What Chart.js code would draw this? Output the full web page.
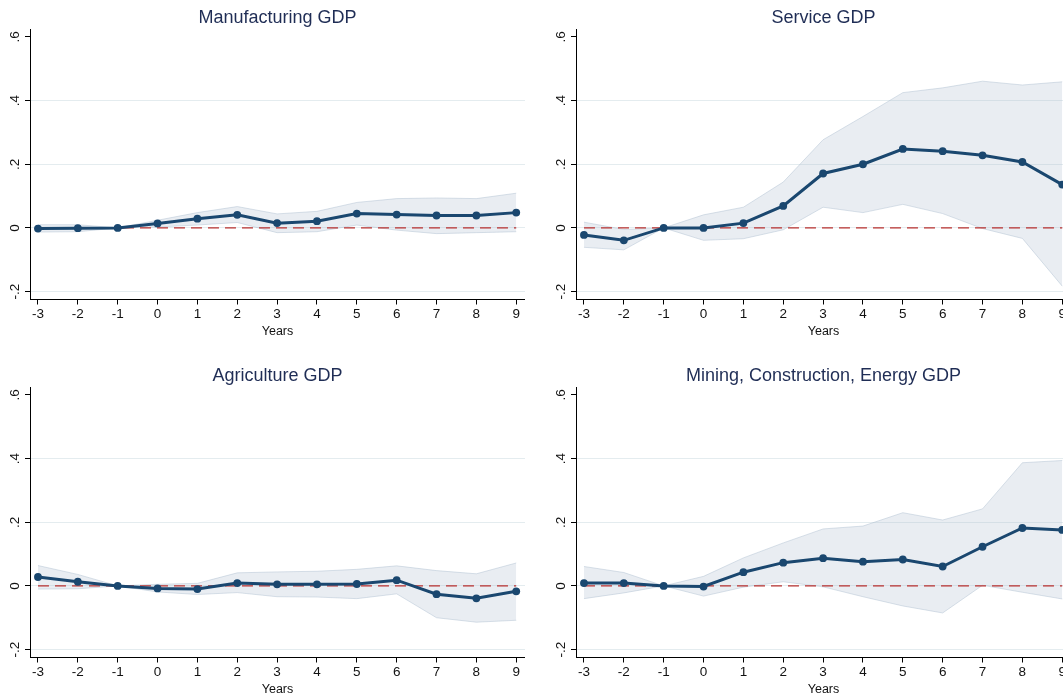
<!DOCTYPE html>
<html>
<head>
<meta charset="utf-8">
<script src="https://cdn.jsdelivr.net/npm/chart.js@4"></script>
<style>
  html, body { margin: 0; padding: 0; background: #fff; overflow: hidden; width: 1063px; height: 694px; }
  .panel { position: absolute; }
  canvas { display: block; }
</style>
</head>
<body>
<div class="panel" style="left:0px;top:0px;"><canvas id="c1" width="525" height="343"></canvas></div>
<div class="panel" style="left:546px;top:0px;"><canvas id="c2" width="525" height="343"></canvas></div>
<div class="panel" style="left:0px;top:358px;"><canvas id="c3" width="525" height="343"></canvas></div>
<div class="panel" style="left:546px;top:358px;"><canvas id="c4" width="525" height="343"></canvas></div>
<script>
// ---- Data ----
const years = [-3, -2, -1, 0, 1, 2, 3, 4, 5, 6, 7, 8, 9];
const yTicks = [-0.2, 0, 0.2, 0.4, 0.6];

const titles = ["Manufacturing GDP", "Service GDP", "Agriculture GDP", "Mining, Construction, Energy GDP"];

const mfg   = [-0.002, -0.001, 0, 0.014, 0.029, 0.041, 0.015, 0.021, 0.045, 0.042, 0.039, 0.039, 0.048];
const mfgHi = [0.010, 0.010, 0, 0.024, 0.048, 0.067, 0.044, 0.052, 0.080, 0.092, 0.094, 0.092, 0.109];
const mfgLo = [-0.013, -0.012, 0, 0.003, 0.009, 0.017, -0.015, -0.012, 0.009, -0.007, -0.018, -0.015, -0.012];

const srv   = [-0.022, -0.039, 0, 0, 0.015, 0.069, 0.171, 0.200, 0.248, 0.241, 0.228, 0.207, 0.136];
const srvHi = [0.018, -0.005, 0, 0.041, 0.065, 0.144, 0.277, 0.350, 0.425, 0.440, 0.461, 0.449, 0.459];
const srvLo = [-0.061, -0.069, 0, -0.039, -0.034, -0.006, 0.065, 0.048, 0.074, 0.045, -0.002, -0.033, -0.183];

const agr   = [0.028, 0.013, 0, -0.008, -0.010, 0.009, 0.005, 0.005, 0.006, 0.018, -0.026, -0.039, -0.017];
const agrHi = [0.064, 0.036, 0, 0.005, 0.008, 0.041, 0.044, 0.046, 0.052, 0.063, 0.048, 0.038, 0.072];
const agrLo = [-0.010, -0.009, 0, -0.019, -0.027, -0.021, -0.034, -0.035, -0.040, -0.025, -0.100, -0.114, -0.108];

const mce   = [0.009, 0.009, 0, -0.002, 0.043, 0.073, 0.087, 0.076, 0.083, 0.061, 0.123, 0.182, 0.176];
const mceHi = [0.061, 0.042, 0, 0.030, 0.088, 0.135, 0.179, 0.188, 0.230, 0.207, 0.242, 0.387, 0.394];
const mceLo = [-0.040, -0.022, 0, -0.032, -0.004, 0.013, -0.003, -0.034, -0.063, -0.085, 0.002, -0.020, -0.041];

// ---- Styles ----
const FONT = "'Liberation Sans', Arial, Helvetica, sans-serif";
const NAVY = "#1a476f";
const BAND = "rgba(175,192,208,0.28)";
const BAND_EDGE = "rgba(170,188,206,0.45)";
const RED = "#b8302f";
const GRID = "#e4ecef";

function pts(ys) { return years.map((x, i) => ({ x: x, y: ys[i] })); }
function fmtY(v) {
  if (Math.abs(v) < 1e-9) return "0";
  const s = String(Math.round(v * 10) / 10);
  return s.replace("0.", ".");
}

function makeChart(id, title, est, hi, lo) {
  const zero = [{ x: years[0], y: 0 }, { x: years[years.length - 1], y: 0 }];
  return new Chart(document.getElementById(id), {
    type: "line",
    data: {
      datasets: [
        { data: pts(lo), borderColor: BAND_EDGE, borderWidth: 1, pointRadius: 0, fill: false, order: 3, tension: 0 },
        { data: pts(hi), borderColor: BAND_EDGE, borderWidth: 1, pointRadius: 0, fill: 0, backgroundColor: BAND, order: 2, tension: 0 },
        { data: zero, borderColor: RED, borderWidth: 1.4, borderDash: [11, 6], pointRadius: 0, fill: false, order: 1 },
        { data: pts(est), borderColor: NAVY, borderWidth: 3, pointRadius: 3.9, pointBackgroundColor: NAVY,
          pointBorderColor: NAVY, pointBorderWidth: 0, fill: false, order: 0, tension: 0 }
      ]
    },
    options: {
      responsive: false,
      animation: false,
      events: [],
      layout: { padding: 0, autoPadding: false },
      plugins: {
        legend: { display: false },
        tooltip: { enabled: false },
        title: {
          display: true, text: title, fullSize: false, color: "#1f2d55",
          font: { family: FONT, size: 18, weight: "normal", lineHeight: 1.2 },
          padding: { top: 7.4, bottom: 0 }
        }
      },
      scales: {
        x: {
          type: "linear", min: -3.2, max: 9.22,
          afterBuildTicks: s => { s.ticks = years.map(v => ({ value: v })); },
          ticks: { autoSkip: false, maxRotation: 0, minRotation: 0, padding: 3, color: "#111",
                   font: { family: FONT, size: 13.5, lineHeight: 1.0 }, callback: v => String(v) },
          grid: { display: true, drawOnChartArea: false, drawTicks: true, tickLength: 5, tickColor: "#000", tickWidth: 1 },
          border: { display: true, color: "#000", width: 1 },
          title: { display: true, text: "Years", color: "#111", font: { family: FONT, size: 12.5, lineHeight: 1.2 }, padding: { top: 0, bottom: 4 } }
        },
        y: {
          type: "linear", min: -0.225, max: 0.625,
          afterBuildTicks: s => { s.ticks = yTicks.map(v => ({ value: v })); },
          afterFit: s => { s.width = 30; },
          ticks: { autoSkip: false, minRotation: 90, maxRotation: 90, crossAlign: "center", padding: 2, color: "#111",
                   font: { family: FONT, size: 13.5 }, callback: v => fmtY(v) },
          grid: {
            drawOnChartArea: true, drawTicks: true, tickLength: 5, tickColor: "#000", lineWidth: 1,
            color: c => (c.tick && Math.abs(c.tick.value - 0.6) < 1e-9) ? "rgba(0,0,0,0)" : GRID
          },
          border: { display: true, color: "#000", width: 1 }
        }
      }
    }
  });
}

makeChart("c1", titles[0], mfg, mfgHi, mfgLo);
makeChart("c2", titles[1], srv, srvHi, srvLo);
makeChart("c3", titles[2], agr, agrHi, agrLo);
makeChart("c4", titles[3], mce, mceHi, mceLo);
</script>
</body>
</html>
